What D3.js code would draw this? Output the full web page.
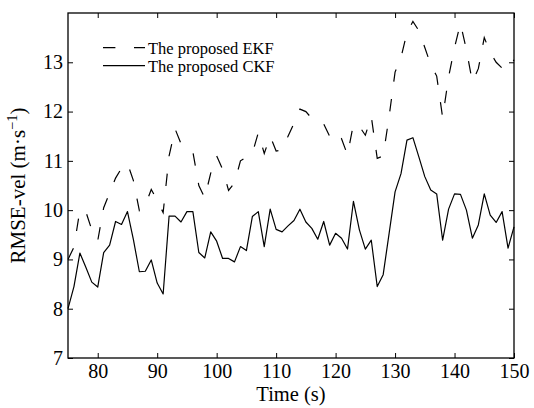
<!DOCTYPE html>
<html>
<head>
<meta charset="utf-8">
<script src="https://cdn.jsdelivr.net/npm/d3@7/dist/d3.min.js"></script>
<style>
  html, body { margin: 0; padding: 0; background: #fff; }
  svg { display: block; }
  text { font-family: "Liberation Serif", "Times New Roman", serif; fill: #000; }
</style>
</head>
<body>
<svg id="chart" width="534" height="408"></svg>
<script>
// Sample times (s)
const time = [75, 76, 77, 78, 79, 80, 81, 82, 83, 84, 85, 86, 87, 88, 89, 90, 91, 92, 93, 94,
  95, 96, 97, 98, 99, 100, 101, 102, 103, 104, 105, 106, 107, 108, 109, 110, 111, 112, 113, 114,
  115, 116, 117, 118, 119, 120, 121, 122, 123, 124, 125, 126, 127, 128, 129, 130, 131, 132, 133, 134,
  135, 136, 137, 138, 139, 140, 141, 142, 143, 144, 145, 146, 147, 148, 149, 150];

// Velocity RMSE of the proposed EKF (m/s)
const ekf = [9.0, 9.25, 10.0, 9.97, 9.6, 9.38, 10.05, 10.35, 10.65, 10.85, 10.95, 10.6, 9.99, 10.1, 10.42, 10.2, 9.95, 11.1, 11.65, 11.35,
  11.25, 11.18, 10.5, 10.25, 10.75, 11.1, 10.83, 10.4, 10.55, 11.0, 11.08, 11.15, 11.57, 11.15, 11.5, 11.2, 11.22, 11.5, 11.76, 12.05,
  12.0, 11.86, 11.78, 11.75, 11.5, 11.35, 11.45, 11.12, 11.75, 11.7, 11.52, 11.9, 11.05, 11.1, 11.9, 12.8, 13.1, 13.6, 13.83, 13.64,
  13.3, 12.95, 12.72, 11.88, 12.7, 13.3, 13.79, 13.25, 12.6, 12.87, 13.5, 13.2, 13.0, 12.88, 12.84, 13.05];

// Velocity RMSE of the proposed CKF (m/s)
const ckf = [8.0, 8.45, 9.13, 8.84, 8.54, 8.44, 9.14, 9.29, 9.77, 9.71, 9.97, 9.4, 8.75, 8.76, 8.99, 8.52, 8.3, 9.88, 9.88, 9.76,
  9.97, 9.97, 9.14, 9.03, 9.56, 9.37, 9.02, 9.02, 8.95, 9.26, 9.18, 9.87, 9.97, 9.26, 10.02, 9.61, 9.56, 9.68, 9.79, 10.02,
  9.76, 9.63, 9.41, 9.77, 9.29, 9.53, 9.43, 9.21, 10.18, 9.6, 9.21, 9.39, 8.45, 8.69, 9.53, 10.37, 10.74, 11.42, 11.47, 11.08,
  10.68, 10.41, 10.33, 9.39, 10.02, 10.33, 10.32, 10.0, 9.43, 9.7, 10.33, 9.9, 9.75, 9.97, 9.23, 9.66];

const xTicks = [80, 90, 100, 110, 120, 130, 140, 150];
const yTicks = [7, 8, 9, 10, 11, 12, 13];
const legendLabels = ["The proposed EKF", "The proposed CKF"];

const svg = d3.select("#chart");
const L = 68, R = 514, T = 13, B = 358;

const x = d3.scaleLinear().domain([75, 150]).range([L, R]);
const y = d3.scaleLinear().domain([7, 14]).range([B, T]);

const line = d3.line().x((d, i) => x(time[i])).y(d => y(d));

// plot lines
svg.append("path").datum(ckf)
  .attr("d", line).attr("fill", "none")
  .attr("stroke", "#000").attr("stroke-width", 1.2).attr("stroke-linejoin", "round");
svg.append("path").datum(ekf)
  .attr("d", line).attr("fill", "none")
  .attr("stroke", "#000").attr("stroke-width", 1.2)
  .attr("stroke-dasharray", "12.5,17.5");

// axes with inward ticks (box style)
const fs = 20;
const gx = svg.append("g").attr("transform", `translate(0,${B})`)
  .call(d3.axisBottom(x).tickValues(xTicks).tickSizeInner(-5).tickSizeOuter(0).tickPadding(6).tickFormat(d3.format("d")));
const gy = svg.append("g").attr("transform", `translate(${L},0)`)
  .call(d3.axisLeft(y).tickValues(yTicks).tickSizeInner(-5).tickSizeOuter(0).tickPadding(5).tickFormat(d3.format("d")));
const gt = svg.append("g").attr("transform", `translate(0,${T})`)
  .call(d3.axisTop(x).tickValues(xTicks).tickSizeInner(-5).tickSizeOuter(0).tickFormat(""));
const gr = svg.append("g").attr("transform", `translate(${R},0)`)
  .call(d3.axisRight(y).tickValues(yTicks).tickSizeInner(-5).tickSizeOuter(0).tickFormat(""));

[gx, gy, gt, gr].forEach(g => {
  g.select(".domain").remove();
  g.selectAll("line").attr("stroke", "#000").attr("stroke-width", 1);
  g.selectAll("text").attr("font-family", "Liberation Serif").attr("font-size", fs).attr("fill", "#000");
});

// frame
svg.append("rect").attr("x", L).attr("y", T).attr("width", R - L).attr("height", B - T)
  .attr("fill", "none").attr("stroke", "#000").attr("stroke-width", 1.3);

// axis titles
svg.append("text").attr("x", (L + R) / 2).attr("y", 401)
  .attr("text-anchor", "middle").attr("font-size", 20.5).text("Time (s)");

const yt = svg.append("text")
  .attr("transform", `translate(25,${(T + B) / 2}) rotate(-90)`)
  .attr("text-anchor", "middle").attr("font-size", 21);
yt.append("tspan").text("RMSE-vel (m\u00B7s");
yt.append("tspan").attr("font-size", 14.5).attr("dy", -8).text("\u22121");
yt.append("tspan").attr("dy", 8).text(")");

// legend
const leg = svg.append("g");
const rows = [{ y: 47.7, dash: "12.4,18.6" }, { y: 65.7, dash: null }];
rows.forEach((r, i) => {
  const ln = leg.append("line").attr("x1", 103).attr("x2", 145).attr("y1", r.y).attr("y2", r.y)
    .attr("stroke", "#000").attr("stroke-width", 1.2);
  if (r.dash) ln.attr("stroke-dasharray", r.dash);
  leg.append("text").attr("x", 148).attr("y", r.y + 6).attr("font-size", 16.5).text(legendLabels[i]);
});
</script>
</body>
</html>
